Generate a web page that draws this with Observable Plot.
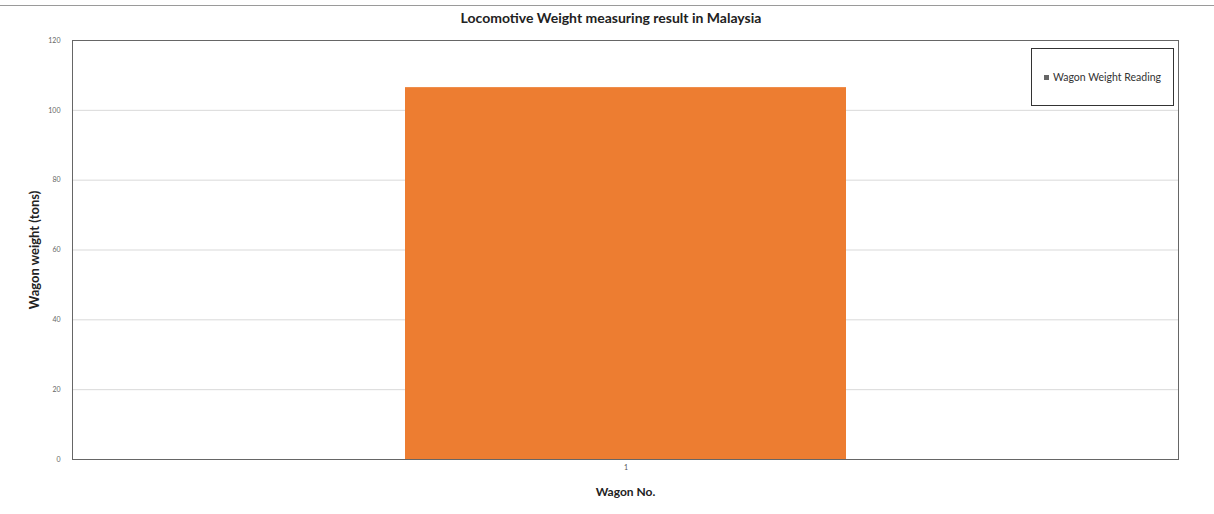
<!DOCTYPE html>
<html>
<head>
<meta charset="utf-8">
<script src="https://cdn.jsdelivr.net/npm/d3@7"></script>
<script src="https://cdn.jsdelivr.net/npm/@observablehq/plot@0.6"></script>
<style>
  html, body { margin: 0; padding: 0; background: #fff; }
  #wrap { position: relative; width: 1214px; height: 514px; font-family: Lato, "Open Sans", sans-serif; }
  #rule { position: absolute; left: 0; top: 5px; width: 1214px; height: 0; border-top: 1px solid #9a9a9a; }
  #title { position: absolute; left: 0; top: 9px; width: 1222px; text-align: center; font-weight: bold; font-size: 14px; color: #222; }
  #legend { position: absolute; left: 1031px; top: 48px; width: 143px; height: 58px; border: 1px solid #333; background: #fff;
            box-sizing: border-box; display: flex; align-items: center; justify-content: center; font-size: 10.5px; color: #333; }
  #legend .sw { display: inline-block; width: 5px; height: 5px; margin-right: 4px; }
  #chart svg { display: block; }
</style>
</head>
<body>
<div id="wrap">
  <div id="chart"></div>
  <div id="rule"></div>
  <div id="title">Locomotive Weight measuring result in Malaysia</div>
  <div id="legend"><span class="sw"></span><span id="legendText"></span></div>
</div>
<script>
// Wagon numbers and the measured weight of each (tons)
const wagons = ["1"];
const weights = [106.5];
const seriesName = "Wagon Weight Reading";
const yTicks = [0, 20, 40, 60, 80, 100, 120];

const barColor = "#ED7D31";
const rows = wagons.map((w, i) => ({wagon: w, weight: weights[i]}));

const chart = Plot.plot({
  width: 1214,
  height: 514,
  marginTop: 40,
  marginBottom: 55,
  marginLeft: 72,
  marginRight: 36,
  style: {fontFamily: "Lato, 'Open Sans', sans-serif", background: "#fff"},
  x: {domain: wagons, padding: 0.43, label: null, tickSize: 0, tickPadding: 6},
  y: {domain: [0, 120], ticks: yTicks, label: null, tickSize: 0, tickPadding: 12},
  marks: [
    Plot.gridY(yTicks, {stroke: "#d9d9d9", strokeOpacity: 1}),
    Plot.barY(rows, {x: "wagon", y: "weight", fill: barColor}),
    Plot.axisY({ticks: yTicks, tickSize: 0, tickPadding: 12, fontSize: 7, fill: "#666", label: null}),
    Plot.axisX({tickSize: 0, tickPadding: 6, fontSize: 7, fill: "#555", label: null}),
    // plot area border
    Plot.frame({stroke: "#666", strokeWidth: 1}),
    Plot.axisY({ticks: [], label: "Wagon weight (tons)", labelAnchor: "center", labelArrow: "none",
                labelOffset: 43, fontSize: 13, fontWeight: "bold", fill: "#222"}),
    Plot.axisX({ticks: [], label: "Wagon No.", labelAnchor: "center", labelArrow: "none",
                labelOffset: 36, fontSize: 12, fontWeight: "bold", fill: "#222"})
  ]
});
document.getElementById("chart").appendChild(chart);
document.getElementById("legendText").textContent = seriesName;
document.querySelector("#legend .sw").style.background = "#666";
</script>
</body>
</html>
